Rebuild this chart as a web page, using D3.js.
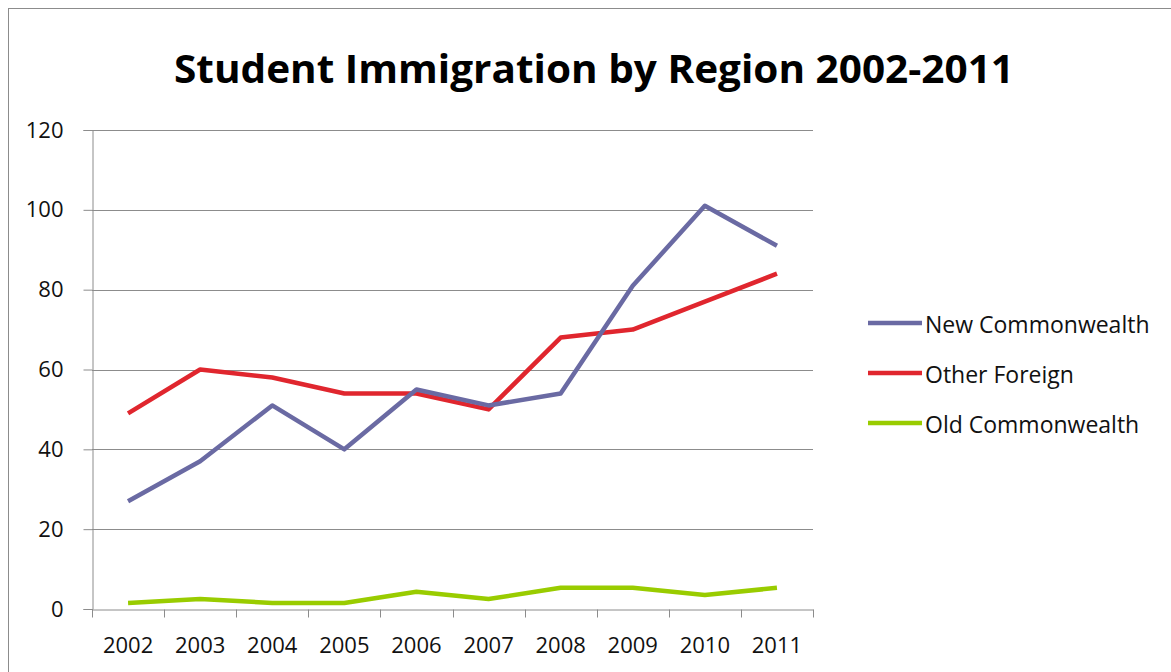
<!DOCTYPE html>
<html>
<head>
<meta charset="utf-8">
<script src="https://cdn.jsdelivr.net/npm/d3@7"></script>
<style>
  body { margin: 0; background: #fff; }
  svg { display: block; font-family: "Open Sans", sans-serif; }
</style>
</head>
<body>
<div id="chart"></div>
<script>
// values
const years = ["2002", "2003", "2004", "2005", "2006", "2007", "2008", "2009", "2010", "2011"];
const newCommonwealth = [27, 37, 51, 40, 55, 51, 54, 81, 101, 91];
const otherForeign = [49, 60, 58, 54, 54, 50, 68, 70, 77, 84];
const oldCommonwealth = [1.5, 2.5, 1.5, 1.5, 4.3, 2.5, 5.3, 5.3, 3.5, 5.3];
const yTicks = [0, 20, 40, 60, 80, 100, 120];
const seriesNames = ["New Commonwealth", "Other Foreign", "Old Commonwealth"];
const seriesColors = ["#6a6aa3", "#e0262e", "#99cc00"];

const series = [newCommonwealth, otherForeign, oldCommonwealth].map(function(v, i) {
    return { name: seriesNames[i], color: seriesColors[i], values: v };
});

const width = 1171, height = 672;
const margin = { top: 130, right: 358, bottom: 63, left: 92 };
const plotW = width - margin.left - margin.right;
const plotH = height - margin.top - margin.bottom;

const svg = d3.select("#chart")
    .append("svg")
    .attr("width", width)
    .attr("height", height);

// outer frame
svg.append("rect")
    .attr("x", 8.5).attr("y", 8.5)
    .attr("width", 1200).attr("height", 700)
    .attr("fill", "none")
    .attr("stroke", "#8c8c8c")
    .attr("stroke-width", 1);

svg.append("text")
    .attr("x", 594)
    .attr("y", 83)
    .attr("text-anchor", "middle")
    .attr("font-size", 40)
    .attr("font-weight", "bold")
    .attr("textLength", 840)
    .attr("lengthAdjust", "spacingAndGlyphs")
    .text("Student Immigration by Region 2002-2011");

const g = svg.append("g")
    .attr("transform", "translate(" + margin.left + "," + margin.top + ")");

const x = d3.scaleBand().domain(years).range([0, plotW]);
const y = d3.scaleLinear().domain([0, 120]).range([plotH, 0]);

// gridlines
g.append("g")
    .selectAll("line")
    .data(yTicks.filter(function(d) { return d > 0; }))
    .enter()
    .append("line")
    .attr("x1", 0).attr("x2", plotW)
    .attr("y1", function(d) { return Math.round(y(d)) + 0.5; })
    .attr("y2", function(d) { return Math.round(y(d)) + 0.5; })
    .attr("stroke", "#8c8c8c");

g.append("g")
    .attr("transform", "translate(0.5,0)")
    .call(d3.axisLeft(y).tickValues(yTicks).tickSize(9).tickPadding(20).tickFormat(d3.format("d")));

const xAxis = g.append("g")
    .attr("transform", "translate(0," + (Math.round(plotH) + 0.5) + ")")
    .call(d3.axisBottom(x).tickSize(0).tickPadding(28));

// x ticks between categories
xAxis.selectAll(".sep")
    .data(d3.range(years.length + 1))
    .enter()
    .append("line")
    .attr("class", "sep")
    .attr("x1", function(i) { return Math.round(i * x.step()) + 0.5; })
    .attr("x2", function(i) { return Math.round(i * x.step()) + 0.5; })
    .attr("y1", 0).attr("y2", 8)
    .attr("stroke", "#8c8c8c");

svg.selectAll(".domain").attr("stroke", "#8c8c8c");
svg.selectAll(".tick line").attr("stroke", "#8c8c8c");
svg.selectAll(".tick text")
    .attr("font-size", 22)
    .attr("font-family", "Open Sans")
    .attr("fill", "#111");

const line = d3.line()
    .x(function(d, i) { return x(years[i]) + x.bandwidth() / 2; })
    .y(function(d) { return y(d); });

g.selectAll(".series")
    .data(series.slice().reverse())
    .enter()
    .append("path")
    .attr("class", "series")
    .attr("d", function(d) { return line(d.values); })
    .attr("fill", "none")
    .attr("stroke", function(d) { return d.color; })
    .attr("stroke-width", 4.5)
    .attr("stroke-linejoin", "round");

// legend
const legend = svg.append("g")
    .attr("transform", "translate(868,323)");

const item = legend.selectAll(".item")
    .data(series)
    .enter()
    .append("g")
    .attr("class", "item")
    .attr("transform", function(d, i) { return "translate(0," + i * 50 + ")"; });

item.append("line")
    .attr("x1", 0).attr("x2", 54)
    .attr("stroke", function(d) { return d.color; })
    .attr("stroke-width", 4.5);

item.append("text")
    .attr("x", 57)
    .attr("y", 10)
    .attr("font-size", 23)
    .attr("fill", "#111")
    .text(function(d) { return d.name; });
</script>
</body>
</html>
